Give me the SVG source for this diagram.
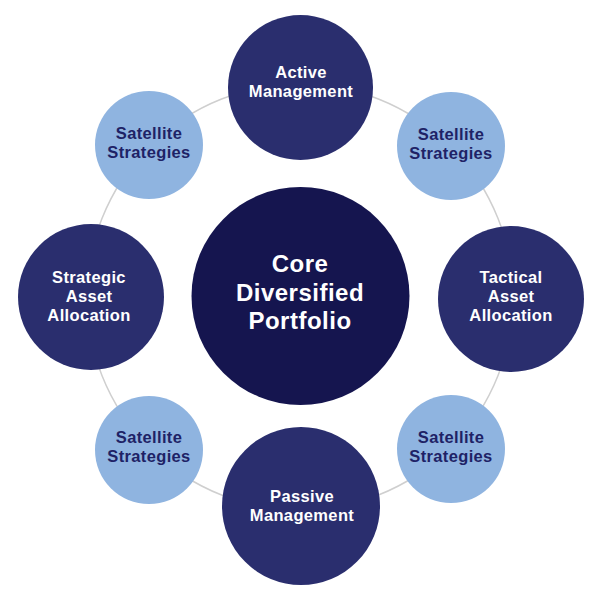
<svg xmlns="http://www.w3.org/2000/svg" width="600" height="600" viewBox="0 0 600 600">
<style>
  .main{fill:#2a2e6e}
  .core{fill:#15154f}
  .sat{fill:#8fb4e0}
  .t{font-family:"Liberation Sans",Arial,sans-serif;font-weight:700;text-anchor:middle;font-size:16.5px;letter-spacing:0.35px}
  .w{fill:#ffffff}
  .d{fill:#1e2266}
  .big{font-size:24px;letter-spacing:0.5px}
  .ring{fill:none;stroke:#cfcfcf;stroke-width:1.5}
</style>
<rect width="600" height="600" fill="#ffffff"/>
<g id="connectors">
  <circle class="ring" cx="300" cy="297" r="213"/>
</g>
<g id="sat-tl">
  <circle class="sat" cx="149" cy="145" r="54"/>
  <text class="t d" x="149" y="139">Satellite<tspan x="149" dy="19">Strategies</tspan></text>
</g>
<g id="sat-tr">
  <circle class="sat" cx="451" cy="146" r="54"/>
  <text class="t d" x="451" y="140">Satellite<tspan x="451" dy="19">Strategies</tspan></text>
</g>
<g id="sat-bl">
  <circle class="sat" cx="149" cy="450" r="54"/>
  <text class="t d" x="149" y="443">Satellite<tspan x="149" dy="19">Strategies</tspan></text>
</g>
<g id="sat-br">
  <circle class="sat" cx="451" cy="449" r="54"/>
  <text class="t d" x="451" y="443">Satellite<tspan x="451" dy="19">Strategies</tspan></text>
</g>
<g id="active">
  <circle class="main" cx="300.5" cy="87.5" r="72.5"/>
  <text class="t w" x="301" y="78">Active<tspan x="301" dy="19">Management</tspan></text>
</g>
<g id="strategic">
  <circle class="main" cx="91" cy="297" r="73"/>
  <text class="t w" x="89" y="283">Strategic<tspan x="89" dy="19">Asset</tspan><tspan x="89" dy="19">Allocation</tspan></text>
</g>
<g id="tactical">
  <circle class="main" cx="511" cy="299" r="73"/>
  <text class="t w" x="511" y="283">Tactical<tspan x="511" dy="19">Asset</tspan><tspan x="511" dy="19">Allocation</tspan></text>
</g>
<g id="passive">
  <circle class="main" cx="301" cy="506" r="79"/>
  <text class="t w" x="302" y="502">Passive<tspan x="302" dy="19">Management</tspan></text>
</g>
<g id="core">
  <circle class="core" cx="300.5" cy="296" r="109"/>
  <text class="t w big" x="300" y="272">Core<tspan x="300" dy="29">Diversified</tspan><tspan x="300" dy="28">Portfolio</tspan></text>
</g>
</svg>
